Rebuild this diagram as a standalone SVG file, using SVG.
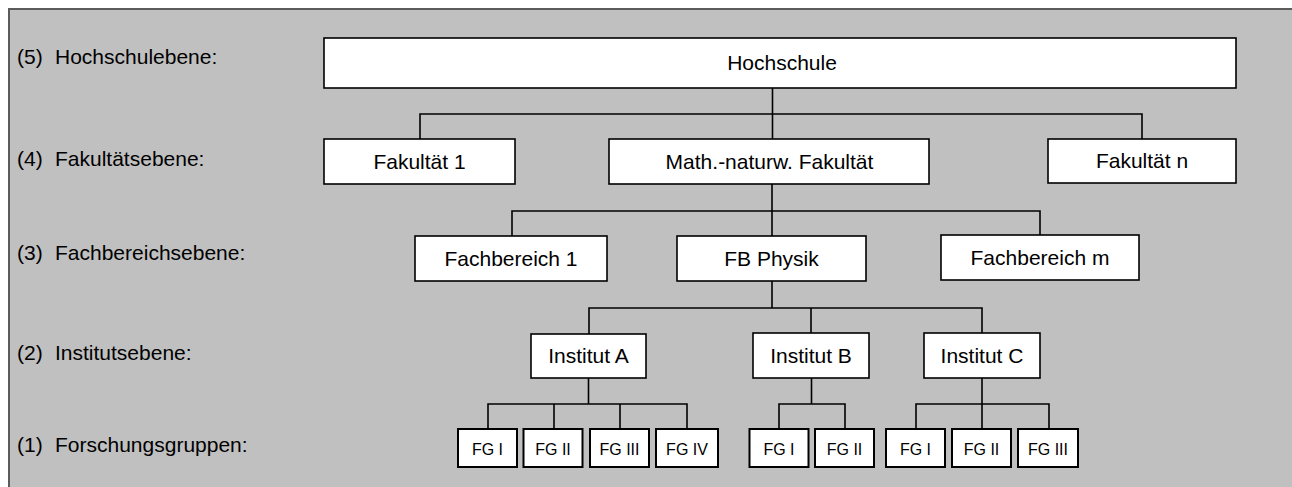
<svg xmlns="http://www.w3.org/2000/svg" width="1292" height="487" viewBox="0 0 1292 487">
<style>
  text { font-family: "Liberation Sans", Arial, sans-serif; fill: #000; }
  .lvl { font-size: 21px; }
  .nt { font-size: 21px; text-anchor: middle; }
  .ft { font-size: 16px; text-anchor: middle; }
  .box { fill: #fff; stroke: #000; stroke-width: 1.6; }
  .fg { fill: #fff; stroke: #000; stroke-width: 2; }
  .con { fill: none; stroke: #000; stroke-width: 1.6; }
</style>
<rect x="0" y="0" width="1292" height="487" fill="#fff"/>
<rect id="frame" x="9" y="9" width="1300" height="500" fill="#c0c0c0" stroke="#5c5c5c" stroke-width="2"/>

<g id="levels">
  <text class="lvl" x="17" y="64">(5)</text><text class="lvl" x="55" y="64">Hochschulebene:</text>
  <text class="lvl" x="17" y="166">(4)</text><text class="lvl" x="55" y="166">Fakultätsebene:</text>
  <text class="lvl" x="17" y="260">(3)</text><text class="lvl" x="55" y="260">Fachbereichsebene:</text>
  <text class="lvl" x="17" y="360">(2)</text><text class="lvl" x="55" y="360">Institutsebene:</text>
  <text class="lvl" x="17" y="452">(1)</text><text class="lvl" x="55" y="452">Forschungsgruppen:</text>
</g>

<g id="connectors">
  <path class="con" d="M772.5 88 V139 M420 139 V114 H1142 V139"/>
  <path class="con" d="M772 184 V236 M512 236 V211 H1040 V235"/>
  <path class="con" d="M772 281 V308 M589 334 V308 H982 V333 M811 308 V333"/>
  <path class="con" d="M588.5 378 V404 M488 429 V404 H687 V429 M554 404 V429 M620 404 V429"/>
  <path class="con" d="M811.5 378 V404 M779 429 V404 H845 V429"/>
  <path class="con" d="M982 378 V429 M916 429 V404 H1049 V429"/>
</g>

<g id="n-hochschule"><rect class="box" x="324" y="38" width="912" height="50"/><text class="nt" x="782" y="70">Hochschule</text></g>

<g id="n-fak1"><rect class="box" x="324" y="139" width="191" height="45"/><text class="nt" x="419.5" y="169">Fakultät 1</text></g>
<g id="n-math"><rect class="box" x="609" y="139" width="320" height="45"/><text class="nt" x="769.5" y="169">Math.-naturw. Fakultät</text></g>
<g id="n-fakn"><rect class="box" x="1048" y="139" width="188" height="44"/><text class="nt" x="1142" y="168">Fakultät n</text></g>

<g id="n-fb1"><rect class="box" x="415" y="236" width="192" height="45"/><text class="nt" x="511" y="266">Fachbereich 1</text></g>
<g id="n-fbphys"><rect class="box" x="677" y="236" width="189" height="45"/><text class="nt" x="771.5" y="266">FB Physik</text></g>
<g id="n-fbm"><rect class="box" x="941" y="235" width="198" height="45"/><text class="nt" x="1040" y="265">Fachbereich m</text></g>

<g id="n-instA"><rect class="box" x="531" y="334" width="115" height="44"/><text class="nt" x="588.5" y="363">Institut A</text></g>
<g id="n-instB"><rect class="box" x="753" y="333" width="116" height="45"/><text class="nt" x="811" y="363">Institut B</text></g>
<g id="n-instC"><rect class="box" x="924" y="333" width="116" height="45"/><text class="nt" x="982" y="363">Institut C</text></g>

<g id="n-A-fg1"><rect class="fg" x="458" y="429" width="59" height="38"/><text class="ft" x="487.5" y="455">FG I</text></g>
<g id="n-A-fg2"><rect class="fg" x="523.5" y="429" width="59" height="38"/><text class="ft" x="553" y="455">FG II</text></g>
<g id="n-A-fg3"><rect class="fg" x="590" y="429" width="59" height="38"/><text class="ft" x="619.5" y="455">FG III</text></g>
<g id="n-A-fg4"><rect class="fg" x="656" y="429" width="62" height="38"/><text class="ft" x="687" y="455">FG IV</text></g>

<g id="n-B-fg1"><rect class="fg" x="749.5" y="429" width="59" height="38"/><text class="ft" x="779" y="455">FG I</text></g>
<g id="n-B-fg2"><rect class="fg" x="815" y="429" width="59" height="38"/><text class="ft" x="844.5" y="455">FG II</text></g>

<g id="n-C-fg1"><rect class="fg" x="886" y="429" width="59" height="38"/><text class="ft" x="915.5" y="455">FG I</text></g>
<g id="n-C-fg2"><rect class="fg" x="952" y="429" width="59" height="38"/><text class="ft" x="981.5" y="455">FG II</text></g>
<g id="n-C-fg3"><rect class="fg" x="1018" y="429" width="60" height="38"/><text class="ft" x="1048" y="455">FG III</text></g>
</svg>
